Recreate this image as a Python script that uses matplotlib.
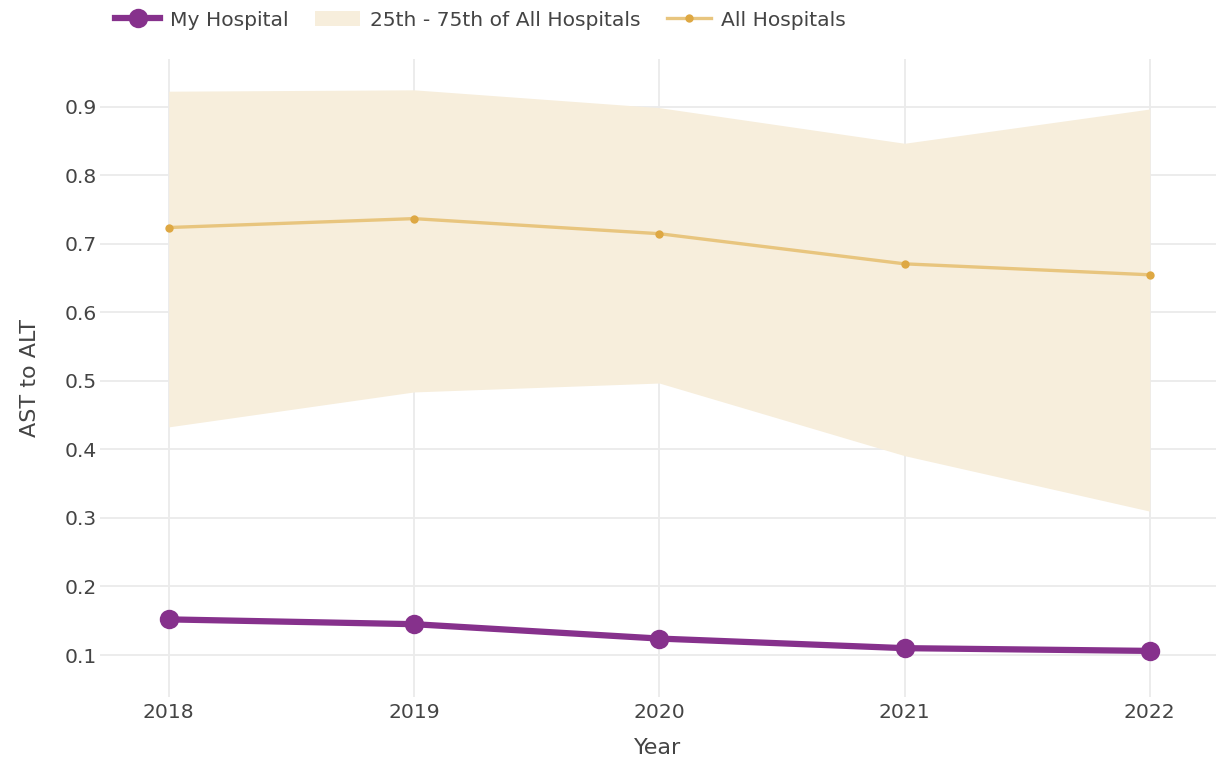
import matplotlib
matplotlib.use('Agg')
import matplotlib.pyplot as plt
from matplotlib.lines import Line2D
from matplotlib.patches import Patch

years = [2018, 2019, 2020, 2021, 2022]
my_hospital = [0.152, 0.145, 0.124, 0.110, 0.106]
all_median = [0.724, 0.737, 0.715, 0.671, 0.655]
p25 = [0.433, 0.484, 0.497, 0.391, 0.310]
p75 = [0.923, 0.925, 0.899, 0.847, 0.897]

PURPLE = '#86318C'
BAND = '#F7EEDC'
GOLD_LINE = '#E8C57E'
GOLD_DOT = '#DEA843'
GRID = '#EBEBEB'
TXT = '#444444'

plt.rcParams['font.family'] = ['DejaVu Sans']

fig = plt.figure(figsize=(12.16, 7.63), dpi=100)
ax = fig.add_axes([100 / 1216, 1 - 697 / 763, 1 - 100 / 1216, (697 - 59) / 763])

ax.fill_between(years, p25, p75, color=BAND, lw=0, zorder=1)
ax.plot(years, all_median, color=GOLD_LINE, lw=2.4, zorder=3)
ax.plot(years, all_median, 'o', color=GOLD_DOT, ms=6, mec='none', zorder=4)
ax.plot(years, my_hospital, '-o', color=PURPLE, lw=4.5, ms=14, mec='none', zorder=5)

ax.set_xlim(2017.72, 2022.27)
ax.set_ylim(0.0387, 0.970)
ax.set_xticks(years)
ax.set_xticklabels([str(y) for y in years])
ax.set_yticks([0.1, 0.2, 0.3, 0.4, 0.5, 0.6, 0.7, 0.8, 0.9])
ax.set_yticklabels(['0.1', '0.2', '0.3', '0.4', '0.5', '0.6', '0.7', '0.8', '0.9'])
ax.grid(True, color=GRID, lw=1.3, zorder=0)
ax.set_axisbelow(True)
for s in ax.spines.values():
    s.set_visible(False)
ax.tick_params(length=0, labelsize=14.6, colors=TXT)
ax.tick_params(axis='y', pad=2)
ax.tick_params(axis='x', pad=4)
ax.set_xlabel('Year', fontsize=16, color=TXT, labelpad=12)
ax.set_ylabel('AST to ALT', fontsize=16, color=TXT, labelpad=18)

handles = [
    Line2D([0], [0], color=PURPLE, lw=4.5, marker='o', ms=14, mec='none'),
    Patch(facecolor=BAND, edgecolor='none'),
    Line2D([0], [0], color=GOLD_LINE, lw=2.4, marker='o', ms=6, mfc=GOLD_DOT, mec='none'),
]
labels = ['My Hospital', '25th - 75th of All Hospitals', 'All Hospitals']
leg = fig.legend(handles, labels, loc='center left', bbox_to_anchor=(97 / 1216, 1 - 20 / 763),
                 ncol=3, frameon=False, fontsize=14.6, handlelength=2.2, handleheight=0.8,
                 handletextpad=0.5, columnspacing=1.3, labelcolor=TXT)

fig.savefig('out.png', dpi=100, facecolor='white')
